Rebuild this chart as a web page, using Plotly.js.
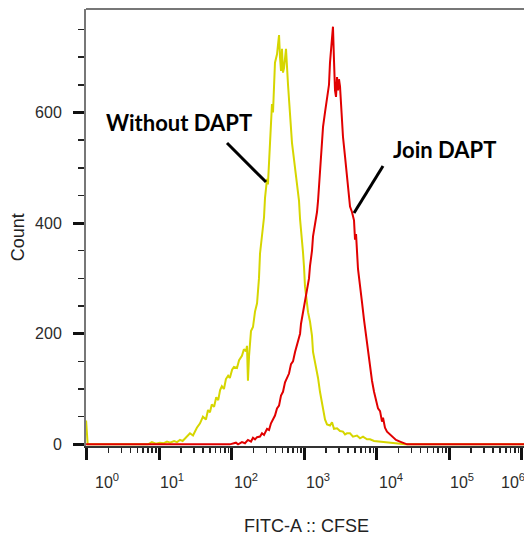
<!DOCTYPE html>
<html>
<head>
<meta charset="utf-8">
<script src="https://cdn.plot.ly/plotly-3.0.1.min.js"></script>
<style>
  html, body { margin: 0; padding: 0; background: #fff; overflow: hidden; }
  #chart { width: 527px; height: 539px; }
</style>
</head>
<body>
<div id="chart"></div>
<script>
// ---- Data (FITC-A :: CFSE intensity vs. cell count) ----
const withoutX = [0.98, 1.03, 7.0, 7.4, 7.9, 9.0, 10.2, 11.6, 12.8, 14.1, 16, 17.6, 19.3, 21, 23.4, 26.5, 29.2, 33, 36.5, 40, 44, 47, 50, 53, 57, 61, 65, 69, 73, 78, 83, 89, 94, 101, 107, 118, 126, 138, 147, 157, 162, 167, 173, 184, 196, 209, 223, 237, 245, 261, 278, 287, 306, 315, 337, 358, 370, 394, 420, 448, 462, 477, 492, 508, 525, 559, 596, 635, 676, 698, 745, 793, 845, 873, 900, 959, 991, 1021, 1089, 1125, 1197, 1276, 1318, 1403, 1496, 1545, 1644, 1754, 1811, 1928, 2056, 2259, 2410, 2564, 2825, 3105, 3412, 3641, 3873, 4266, 4688, 5321, 5861, 6442, 7311, 8054, 9141, 11066, 12942, 15171, 17783, 20845, 24434, 1170000];
const withoutY = [43, 0, 0, 2, 4, 1, 3, 2, 5, 3, 6, 4, 8, 6, 12, 20, 16, 30, 38, 50, 45, 62, 58, 72, 68, 85, 80, 98, 105, 100, 118, 124, 120, 135, 140, 138, 152, 160, 172, 168, 178, 115, 160, 205, 212, 240, 255, 300, 345, 380, 410, 445, 480, 470, 555, 615, 600, 690, 705, 740, 700, 675, 715, 672, 680, 715, 650, 590, 545, 530, 500, 480, 440, 407, 390, 347, 320, 286, 255, 239, 222, 196, 167, 150, 131, 120, 95, 75, 59, 45, 36, 34, 40, 28, 29, 24, 23, 18, 20, 20, 14, 16, 11, 14, 9, 9, 6, 5, 4, 3, 2, 1, 0, 0];

const joinX = [0.98, 94, 114, 122, 138, 152, 167, 184, 196, 209, 223, 245, 261, 278, 306, 326, 347, 370, 394, 420, 448, 477, 508, 542, 577, 615, 655, 698, 745, 793, 845, 873, 900, 959, 1021, 1089, 1160, 1197, 1276, 1318, 1403, 1496, 1545, 1592, 1644, 1698, 1811, 1928, 2056, 2188, 2259, 2410, 2483, 2564, 2649, 2735, 2825, 2911, 3006, 3105, 3206, 3412, 3641, 3873, 4130, 4266, 4539, 4842, 5000, 5164, 5495, 5861, 6237, 6653, 7096, 7551, 8054, 8570, 9141, 9727, 10375, 11066, 11776, 12162, 12942, 13804, 15171, 16711, 18365, 20845, 23659, 26060, 1170000];
const joinY = [0, 0, 3, 0, 4, 2, 8, 5, 12, 9, 13, 14, 20, 17, 28, 26, 38, 45, 52, 65, 70, 88, 95, 112, 120, 128, 145, 150, 167, 180, 196, 200, 218, 239, 258, 275, 300, 322, 350, 376, 395, 420, 440, 466, 480, 515, 574, 600, 628, 650, 690, 730, 755, 695, 640, 628, 664, 640, 660, 647, 610, 556, 520, 484, 455, 430, 420, 405, 370, 380, 317, 290, 257, 225, 196, 165, 137, 115, 95, 80, 65, 60, 41, 48, 30, 23, 18, 14, 8, 5, 2, 0, 0];

const seriesNames = ['Without DAPT', 'Join DAPT'];
const xTickVals = [1, 10, 100, 1000, 10000, 100000, 1000000];
const xTickExp = ['0', '1', '2', '3', '4', '5', '6'];
const yTickVals = [0, 200, 400, 600];
const xTitle = 'FITC-A :: CFSE';
const yTitle = 'Count';

const family = 'Liberation Sans, Arial, sans-serif';
const tickFont = { family: family, size: 16, color: '#2b2b2b' };
const titleFont = { family: family, size: 18, color: '#222' };
const labelFont = { family: 'Lato, sans-serif', size: 22, color: '#000', weight: 700 };

// minor log ticks (2..9 in every decade)
const minorX = [];
for (let d = 0; d < 7; d++) for (let m = 2; m <= 9; m++) minorX.push(m * Math.pow(10, d));

const traces = [
  { x: withoutX, y: withoutY, name: seriesNames[0], type: 'scatter', mode: 'lines',
    line: { color: '#d6d600', width: 2 }, hoverinfo: 'x+y' },
  { x: joinX, y: joinY, name: seriesNames[1], type: 'scatter', mode: 'lines',
    line: { color: '#e10000', width: 2 }, hoverinfo: 'x+y' }
];

// tick label annotations (left-aligned on each decade tick, as in the original export)
const labelShift = [6, -1, 0, 0, 0, -1, -23];
const annotations = xTickVals.map((v, i) => ({
  x: Math.log10(v), xref: 'x', y: 0, yref: 'paper', yanchor: 'top', xanchor: 'left',
  yshift: -23, xshift: labelShift[i], showarrow: false,
  text: '10<sup>' + xTickExp[i] + '</sup>', font: tickFont
}));
annotations.push(
  { x: 1.272, xref: 'x', y: 582.7, yref: 'y', text: '<b>' + seriesNames[0] + '</b>', showarrow: false, font: labelFont },
  { x: 4.926, xref: 'x', y: 533.9, yref: 'y', text: '<b>' + seriesNames[1] + '</b>', showarrow: false, font: labelFont },
  { x: -0.154, xref: 'paper', y: 0.478, yref: 'paper', xanchor: 'center', yanchor: 'middle',
    text: yTitle, textangle: -90, showarrow: false, font: titleFont }
);

const layout = {
  width: 527, height: 539,
  margin: { l: 86, r: 0, t: 9, b: 93, pad: 0 },
  paper_bgcolor: '#fff', plot_bgcolor: '#fff',
  showlegend: false,
  font: tickFont,
  xaxis: {
    type: 'log', range: [-0.01, 6.07],
    showgrid: false, zeroline: false,
    showline: true, linecolor: '#333', linewidth: 2,
    tickmode: 'array', tickvals: xTickVals, showticklabels: false,
    ticks: 'outside', ticklen: 12, tickwidth: 3, tickcolor: '#111',
    minor: { tickmode: 'array', tickvals: minorX, ticks: 'outside', ticklen: 5, tickwidth: 1.5, tickcolor: '#222', showgrid: false },
    title: { text: xTitle, font: titleFont, standoff: 60 }
  },
  yaxis: {
    range: [-3, 787],
    showgrid: false, zeroline: false,
    showline: true, linecolor: '#777', linewidth: 2,
    tickmode: 'array', tickvals: yTickVals,
    ticks: 'outside', ticklen: 11, tickwidth: 3, tickcolor: '#111',
    ticklabelstandoff: 8,
    tickfont: tickFont,
    minor: { dtick: 50, tick0: 0, ticks: 'outside', ticklen: 6, tickwidth: 1.5, tickcolor: '#222', showgrid: false }
  },
  shapes: [
    { type: 'line', xref: 'paper', yref: 'paper', x0: 0, x1: 1, y0: 1, y1: 1, line: { color: '#777', width: 2 } },
    // pointer lines (shape x on a log axis takes data values)
    { type: 'line', xref: 'x', yref: 'y', x0: 85.9, y0: 544.7, x1: 296.5, y1: 474.2, line: { color: '#000', width: 3 } },
    { type: 'line', xref: 'x', yref: 'y', x0: 12162, y0: 503.1, x1: 4842, y1: 418.2, line: { color: '#000', width: 3 } }
  ],
  annotations: annotations
};

Plotly.newPlot('chart', traces, layout, { displayModeBar: false, staticPlot: true });
</script>
</body>
</html>
